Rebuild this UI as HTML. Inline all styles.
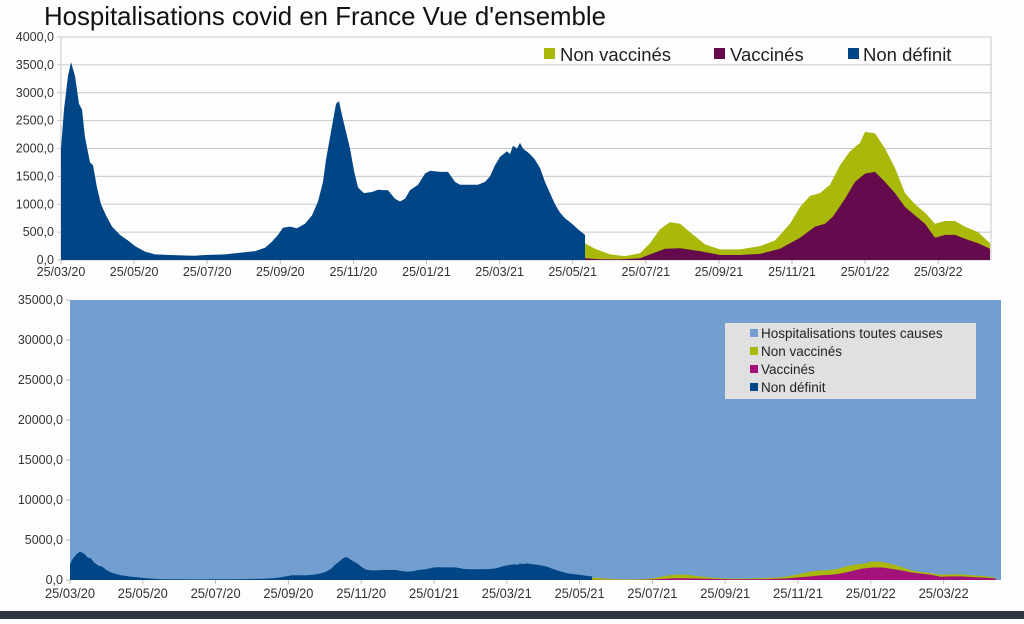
<!DOCTYPE html>
<html><head><meta charset="utf-8"><style>
html,body{margin:0;padding:0;background:#fff;}
body{width:1024px;height:619px;overflow:hidden;font-family:"Liberation Sans",sans-serif;}
svg text{font-family:"Liberation Sans",sans-serif;}
</style></head><body>
<svg id="s" width="1024" height="619" viewBox="0 0 1024 619" xmlns="http://www.w3.org/2000/svg">
<rect width="1024" height="619" fill="#fdfdfd"/>
<text x="44" y="25" font-size="26" fill="#111" textLength="562" lengthAdjust="spacingAndGlyphs">Hospitalisations covid en France Vue d'ensemble</text>
<g id="top"></g>
<g id="bot"></g>
<rect x="0" y="611" width="1024" height="8" fill="#2e3641"/>
</svg>
<script>
var NS="http://www.w3.org/2000/svg";
function el(p,t,a,txt){var e=document.createElementNS(NS,t);for(var k in a)e.setAttribute(k,a[k]);if(txt!==undefined)e.textContent=txt;p.appendChild(e);return e;}
var blue=[[61,2000],[64,2700],[68,3300],[71,3550],[75,3300],[79,2800],[82,2700],[85,2200],[90,1750],[93,1700],[97,1300],[101,1000],[106,800],[112,600],[120,450],[128,350],[135,250],[145,150],[155,100],[170,90],[185,80],[195,75],[205,90],[225,100],[240,130],[255,160],[265,220],[272,330],[278,450],[283,580],[290,600],[297,570],[305,650],[312,800],[318,1050],[323,1400],[326,1800],[330,2200],[333,2500],[336,2800],[339,2850],[342,2600],[346,2300],[350,2000],[354,1600],[358,1300],[364,1200],[372,1220],[378,1260],[388,1250],[395,1100],[400,1050],[405,1100],[410,1250],[418,1350],[425,1550],[430,1600],[440,1580],[448,1580],[455,1400],[460,1350],[470,1350],[478,1350],[485,1400],[490,1500],[495,1700],[500,1850],[507,1950],[510,1900],[513,2050],[517,2000],[520,2100],[523,2000],[530,1900],[535,1800],[540,1650],[545,1400],[550,1200],[555,1000],[560,850],[565,750],[572,650],[578,550],[585,450]];
var purp=[[585,30],[600,15],[620,10],[640,30],[650,100],[665,200],[680,210],[700,160],[720,90],[740,90],[760,110],[780,200],[800,400],[815,600],[825,650],[833,780],[845,1100],[855,1400],[865,1550],[875,1580],[885,1400],[895,1200],[905,950],[915,800],[925,650],[935,400],[945,450],[955,450],[965,380],[978,300],[990,200]];
var tot=[[585,300],[595,200],[610,100],[625,70],[640,120],[650,300],[660,550],[670,680],[680,650],[690,500],[705,280],[720,190],[740,190],[760,250],[775,350],[790,650],[800,950],[810,1150],[820,1200],[830,1350],[840,1700],[850,1950],[860,2100],[865,2300],[875,2270],[885,2000],[895,1650],[905,1200],[915,1000],[925,850],[935,650],[945,700],[955,700],[965,600],[978,500],[990,300]];
var dates=["25/03/20","25/05/20","25/07/20","25/09/20","25/11/20","25/01/21","25/03/21","25/05/21","25/07/21","25/09/21","25/11/21","25/01/22","25/03/22"];
function area(g,pts,fx,fy,y0,col){var d="M"+fx(pts[0][0])+","+y0;pts.forEach(function(p){d+="L"+fx(p[0]).toFixed(1)+","+fy(p[1]).toFixed(1);});d+="L"+fx(pts[pts.length-1][0])+","+y0+"Z";el(g,"path",{d:d,fill:col});}
// TOP
var g=document.getElementById("top");
var tx=function(x){return x;}, ty=function(v){return 260-v*223/4000;};
for(var i=0;i<=8;i++){var y=ty(i*500);el(g,"line",{x1:57,x2:991,y1:y,y2:y,stroke:"#c8c8c8","stroke-width":1});el(g,"text",{x:54,y:y+4,"font-size":12.5,"text-anchor":"end",fill:"#333"},(i*500)+",0");}
el(g,"line",{x1:61,x2:61,y1:37,y2:264,stroke:"#c8c8c8"});
el(g,"line",{x1:991,x2:991,y1:37,y2:260,stroke:"#c8c8c8"});
area(g,blue,tx,ty,260,"#004586");
area(g,tot,tx,ty,260,"#aab80a");
area(g,purp,tx,ty,260,"#660a4e");
dates.forEach(function(d,k){var x=61+73.1*k;el(g,"line",{x1:x,x2:x,y1:260,y2:264,stroke:"#bbb"});el(g,"text",{x:x,y:276,"font-size":12.5,"text-anchor":"middle",fill:"#333"},d);});
el(g,"rect",{x:544,y:48,width:11,height:11,fill:"#aab80a"});el(g,"text",{x:560,y:61,"font-size":18.5,fill:"#222"},"Non vaccinés");
el(g,"rect",{x:714,y:48,width:11,height:11,fill:"#660a4e"});el(g,"text",{x:730,y:61,"font-size":18.5,fill:"#222"},"Vaccinés");
el(g,"rect",{x:848,y:48,width:11,height:11,fill:"#004586"});el(g,"text",{x:863,y:61,"font-size":18.5,fill:"#222"},"Non définit");
// BOTTOM
var b=document.getElementById("bot");
var bx=function(x){return 70+(x-61)*0.9965;}, by=function(v){return 580-v*0.008;};
el(b,"rect",{x:70,y:300,width:931,height:280,fill:"#729fcf"});
for(var i=0;i<=7;i++){var y=by(i*5000);el(b,"line",{x1:66,x2:70,y1:y,y2:y,stroke:"#bbb"});el(b,"text",{x:63,y:y+4,"font-size":12.5,"text-anchor":"end",fill:"#333"},(i*5000)+",0");}
area(b,blue,bx,by,580,"#004586");
area(b,tot,bx,by,580,"#aab80a");
area(b,purp,bx,by,580,"#a3127a");
dates.forEach(function(d,k){var x=70+72.8*k;el(b,"line",{x1:x,x2:x,y1:580,y2:584,stroke:"#bbb"});el(b,"text",{x:x,y:598,"font-size":14,"text-anchor":"middle",fill:"#333",textLength:"50",lengthAdjust:"spacingAndGlyphs"},d);});
el(b,"rect",{x:725,y:323,width:251,height:76,fill:"#e0e0e0"});
var L=[["#729fcf","Hospitalisations toutes causes"],["#aab80a","Non vaccinés"],["#a3127a","Vaccinés"],["#004586","Non définit"]];
L.forEach(function(l,k){var y=333+k*18;el(b,"rect",{x:750,y:y-4,width:8,height:8,fill:l[0]});el(b,"text",{x:761,y:y+5,"font-size":13.5,fill:"#222"},l[1]);});
</script>
</body></html>
